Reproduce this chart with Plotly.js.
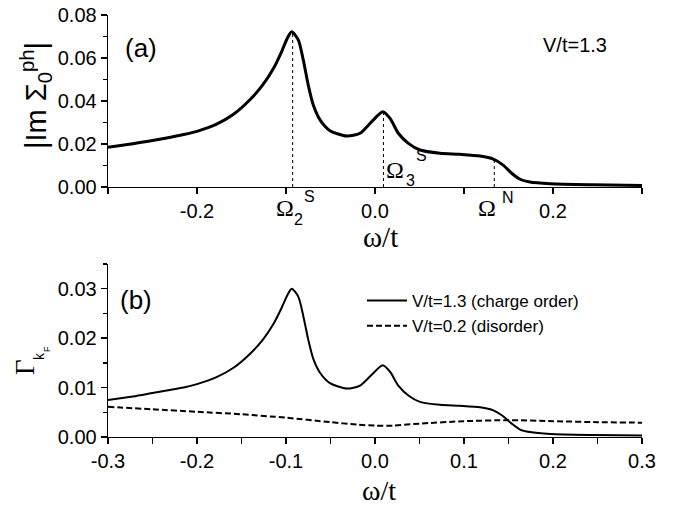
<!DOCTYPE html>
<html>
<head>
<meta charset="utf-8">
<script src="https://cdn.plot.ly/plotly-3.0.1.min.js"></script>
<style>html,body{margin:0;padding:0;background:#fff;}#chart{width:675px;height:513px;}</style>
</head>
<body>
<div id="chart"></div>
<script>
// ---- data ----
// panel (a): |Im Sigma_0^ph| at V/t=1.3
var omegaA = [-0.300,-0.272,-0.250,-0.234,-0.215,-0.200,-0.178,-0.159,-0.140,-0.1255,-0.114,-0.105,-0.0985,-0.0936,-0.0862,-0.0806,-0.075,-0.0693,-0.0618,-0.0506,-0.0318,-0.0169,-0.0037,0.0087,0.0169,0.0262,0.0375,0.0506,0.073,0.0955,0.118,0.133,0.144,0.1536,0.163,0.174,0.197,0.245,0.300];
var imSigma = [0.0185,0.0201,0.0216,0.0228,0.0244,0.0259,0.0292,0.0338,0.0408,0.0478,0.0552,0.0629,0.0692,0.0722,0.0684,0.0591,0.0474,0.0381,0.0312,0.0262,0.0237,0.0250,0.0304,0.0350,0.0319,0.0250,0.0203,0.0172,0.0157,0.0152,0.0144,0.0130,0.0102,0.0064,0.0036,0.0023,0.0015,0.0010,0.0007];
// panel (b): Gamma_kF
var omegaB = omegaA;
var gammaCO = [0.0075,0.0082,0.0089,0.0094,0.0100,0.0107,0.0121,0.0140,0.0169,0.0198,0.0229,0.0261,0.0287,0.0300,0.0284,0.0245,0.0197,0.0158,0.0130,0.0109,0.0098,0.0104,0.0126,0.0145,0.0132,0.0104,0.0084,0.0071,0.0065,0.0063,0.0060,0.0054,0.0042,0.0027,0.0015,0.0010,0.0006,0.0004,0.0003];
var omegaD = [-0.30,-0.25,-0.20,-0.15,-0.10,-0.05,-0.02,0.00,0.02,0.05,0.10,0.15,0.20,0.25,0.30];
var gammaDis = [0.0061,0.0056,0.0051,0.0046,0.0039,0.0030,0.0025,0.0023,0.0023,0.0027,0.0032,0.0034,0.0032,0.0030,0.0029];
var seriesNames = ['V/t=1.3 (charge order)','V/t=0.2 (disorder)'];
// characteristic frequencies marked in (a)
var markOmega = [-0.0925, 0.0095, 0.134];
var markHeight = [0.0722, 0.0350, 0.0132];
// tick labels
var xTickVals = [-0.3,-0.2,-0.1,0.0,0.1,0.2,0.3];
var xTickTextA = ['','-0.2','','0.0','','0.2',''];
var xTickTextB = ['-0.3','-0.2','-0.1','0.0','0.1','0.2','0.3'];
var yTickValsA = [0,0.02,0.04,0.06,0.08];
var yTickTextA = ['0.00','0.02','0.04','0.06','0.08'];
var yTickValsB = [0,0.01,0.02,0.03];
var yTickTextB = ['0.00','0.01','0.02','0.03'];

// ---- layout helpers ----
var W = 675, H = 513, ML = 108, MR = 33, MT = 15, MB = 76;
var PW = W - ML - MR, PH = H - MT - MB;
function px(x){ return (x - ML) / PW; }
function py(y){ return (H - MB - y) / PH; }

var SANS = 'Arial, "Liberation Sans", sans-serif';
var SERIF = '"Times New Roman", "Liberation Serif", serif';

var traces = [
  {x: omegaA, y: imSigma, xaxis: 'x', yaxis: 'y', mode: 'lines', line: {color: '#000', width: 3, shape: 'spline', smoothing: 0.7}, showlegend: false, hoverinfo: 'skip'},
  {x: omegaB, y: gammaCO, xaxis: 'x2', yaxis: 'y2', mode: 'lines', name: seriesNames[0], line: {color: '#000', width: 2, shape: 'spline', smoothing: 0.7}},
  {x: omegaD, y: gammaDis, xaxis: 'x2', yaxis: 'y2', mode: 'lines', name: seriesNames[1], line: {color: '#000', width: 2, dash: '6px,3px', shape: 'spline', smoothing: 0.7}}
];

var axBase = {showgrid: false, zeroline: false, showline: true, linecolor: '#000', linewidth: 1.3, tickcolor: '#000', tickwidth: 1.3, ticklen: 6, tickfont: {family: SANS, size: 20, color: '#000'}};
function ax(o){ return Object.assign({}, axBase, o); }

var shapes = [];
for (var i = 0; i < markOmega.length; i++) {
  shapes.push({type: 'line', xref: 'x', yref: 'y', x0: markOmega[i], x1: markOmega[i], y0: 0, y1: markHeight[i], line: {color: '#000', width: 1, dash: 'dot'}});
}

function ann(text, x, y, size, family, extra){
  return Object.assign({text: text, xref: 'paper', yref: 'paper', x: px(x), y: py(y), xanchor: 'center', yanchor: 'middle', showarrow: false, font: {family: family || SANS, size: size, color: '#000'}}, extra || {});
}

var annotations = [
  ann('(a)', 141, 48, 26),
  ann('V/t=1.3', 575, 45, 20),
  ann('(b)', 136, 300, 26),
  ann('Ω', 285, 208, 24, SERIF), ann('2', 298, 220, 16), ann('S', 309, 196, 16),
  ann('Ω', 395, 170, 24, SERIF), ann('3', 410, 181, 16), ann('S', 421, 155, 16),
  ann('Ω', 487, 208, 24, SERIF), ann('N', 508, 197, 16),
  ann('ω/t', 380, 237, 29, SERIF),
  ann('ω/t', 379, 490, 28, SERIF),
  ann('|Im Σ<sub>0</sub><sup>ph</sup>|', 36, 96, 29, SANS, {textangle: -90}),
  ann('Γ', 25, 367, 27, SERIF, {textangle: -90}),
  ann('k', 39, 356, 14, SANS, {textangle: -90}),
  ann('F', 47, 349, 9, SANS, {textangle: -90})
];

var layout = {
  width: W, height: H,
  margin: {l: ML, r: MR, t: MT, b: MB},
  paper_bgcolor: '#fff', plot_bgcolor: '#fff',
  font: {family: SANS, color: '#000'},
  xaxis: ax({domain: [0, 1], anchor: 'y', range: [-0.3, 0.3], tickmode: 'array', tickvals: xTickVals, ticktext: xTickTextA, ticks: 'outside'}),
  xaxis3: ax({overlaying: 'x', anchor: 'y', side: 'top', range: [-0.3, 0.3], tickmode: 'array', tickvals: xTickVals, ticks: 'inside', showticklabels: false}),
  yaxis: ax({domain: [py(187), 1], anchor: 'x', range: [0, 0.08], tickmode: 'array', tickvals: yTickValsA, ticktext: yTickTextA, ticks: 'outside',
            minor: {dtick: 0.01, ticklen: 4, ticks: 'outside', tickcolor: '#000', tickwidth: 1.3}}),
  yaxis3: ax({overlaying: 'y', anchor: 'x', side: 'right', range: [0, 0.08], dtick: 0.02, ticks: 'inside', showticklabels: false,
            minor: {dtick: 0.01, ticklen: 4, ticks: 'inside', tickcolor: '#000', tickwidth: 1.3}}),
  xaxis2: ax({domain: [0, 1], anchor: 'y2', range: [-0.3, 0.3], tickmode: 'array', tickvals: xTickVals, ticktext: xTickTextB, ticks: 'outside',
            minor: {dtick: 0.05, ticklen: 6, ticks: 'outside', tickcolor: '#000', tickwidth: 1.3}}),
  xaxis4: ax({overlaying: 'x2', anchor: 'y2', side: 'top', range: [-0.3, 0.3], dtick: 0.1, ticks: 'inside', showticklabels: false,
            minor: {dtick: 0.05, ticklen: 6, ticks: 'inside', tickcolor: '#000', tickwidth: 1.3}}),
  yaxis2: ax({domain: [0, py(264)], anchor: 'x2', range: [0, 0.035], tickmode: 'array', tickvals: yTickValsB, ticktext: yTickTextB, ticks: 'outside',
            minor: {dtick: 0.005, ticklen: 4, ticks: 'outside', tickcolor: '#000', tickwidth: 1.3}}),
  yaxis4: ax({overlaying: 'y2', anchor: 'x2', side: 'right', range: [0, 0.035], dtick: 0.01, ticks: 'inside', showticklabels: false,
            minor: {dtick: 0.005, ticklen: 4, ticks: 'inside', tickcolor: '#000', tickwidth: 1.3}}),
  showlegend: true,
  legend: {x: px(362), y: py(283), xanchor: 'left', yanchor: 'top', bgcolor: 'rgba(0,0,0,0)', borderwidth: 0,
           font: {family: SANS, size: 17, color: '#000'}, itemwidth: 40, tracegroupgap: 0},
  shapes: shapes,
  annotations: annotations
};

Plotly.newPlot('chart', traces, layout, {displayModeBar: false, staticPlot: true});
</script>
</body>
</html>
